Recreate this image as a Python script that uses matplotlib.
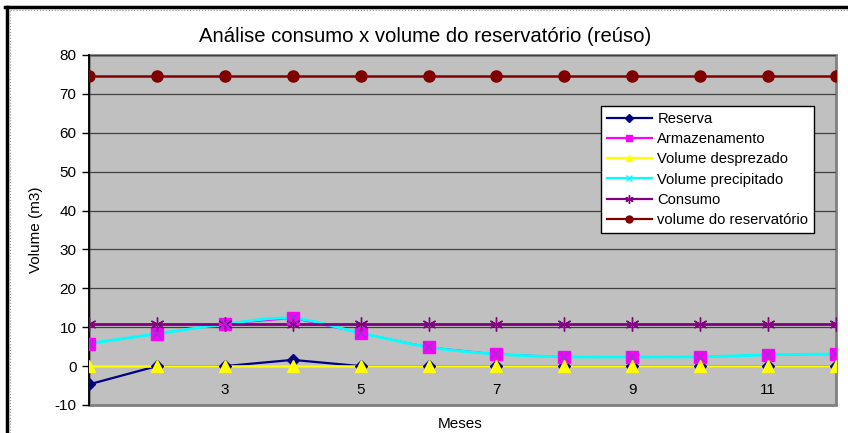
import numpy as np
import matplotlib.pyplot as plt
from matplotlib.lines import Line2D

plt.rcParams['font.family'] = ['Liberation Sans', 'DejaVu Sans']
plt.rcParams['axes.unicode_minus'] = False

# dados
meses = np.arange(1, 13)
reserva = [-4.7, 0.0, 0.0, 1.6, 0.0, 0.0, 0.0, 0.0, 0.0, 0.0, 0.0, 0.0]
armazenamento = [5.8, 8.3, 10.8, 12.3, 8.5, 4.9, 3.1, 2.4, 2.4, 2.4, 2.9, 3.1]
desprezado = [0, 0, 0, 0, 0, 0, 0, 0, 0, 0, 0, 0]
precipitado = [5.8, 8.3, 10.8, 12.3, 8.5, 4.9, 3.1, 2.4, 2.4, 2.4, 2.9, 3.1]
consumo = [10.8] * 12
vol_reservatorio = [74.5] * 12

xticks_lab = [3, 5, 7, 9, 11]
yticks = np.arange(-10, 81, 10)


def suavizar(x, y, n=30):
    # curva suavizada tipo Catmull-Rom (como a linha suavizada do Excel)
    x = np.asarray(x, float)
    y = np.asarray(y, float)
    px = np.concatenate([[x[0]], x, [x[-1]]])
    py = np.concatenate([[y[0]], y, [y[-1]]])
    xs, ys = [], []
    t = np.linspace(0, 1, n)
    for i in range(1, len(px) - 2):
        p0 = np.array([px[i], py[i]])
        p3 = np.array([px[i + 1], py[i + 1]])
        c1 = p0 + (np.array([px[i + 1], py[i + 1]]) - np.array([px[i - 1], py[i - 1]])) / 6
        c2 = p3 - (np.array([px[i + 2], py[i + 2]]) - np.array([px[i], py[i]])) / 6
        b = ((1 - t) ** 3)[:, None] * p0 + (3 * (1 - t) ** 2 * t)[:, None] * c1 \
            + (3 * (1 - t) * t ** 2)[:, None] * c2 + (t ** 3)[:, None] * p3
        xs.append(b[:, 0])
        ys.append(b[:, 1])
    return np.concatenate(xs), np.concatenate(ys)


fig = plt.figure(figsize=(8.48, 4.33), dpi=100)
ax = fig.add_axes([89 / 848, 28 / 433, 747 / 848, 350 / 433])
ax.set_facecolor('#C0C0C0')
ax.patch.set_edgecolor('#808080')
ax.patch.set_linewidth(2)

for yv in yticks[1:]:
    ax.axhline(yv, color='#404040', lw=0.9, zorder=1)

# linhas
ax.plot(meses, reserva, color='#000080', lw=1.6, zorder=3)
ax.plot(meses, armazenamento, color='#FF00FF', lw=1.0, zorder=2)
ax.plot(meses, desprezado, color='#FFFF00', lw=1.8, zorder=3)
sx, sy = suavizar(meses, precipitado)
ax.plot(sx, sy, color='#00FFFF', lw=2.0, zorder=3)
ax.plot(meses, consumo, color='#800080', lw=2.0, zorder=3)
ax.plot(meses, vol_reservatorio, color='#800000', lw=1.8, zorder=3)

# marcadores
ax.plot(meses, reserva, ls='none', marker='D', ms=6, color='#000080', zorder=4)
ax.plot(meses, armazenamento, ls='none', marker='s', ms=8, color='#FF00FF', zorder=4)
ax.plot(meses, desprezado, ls='none', marker='^', ms=9, color='#FFFF00', zorder=5)
ax.plot(meses, precipitado, ls='none', marker='x', ms=7, mew=1.2, color='#9933CC', zorder=5)
ax.plot(meses, consumo, ls='none', marker=(6, 2, 0), ms=10, mew=1.0, color='#800080', zorder=4)
ax.plot(meses, vol_reservatorio, ls='none', marker='o', ms=8, color='#800000', zorder=4)

handles = [
    Line2D([], [], color='#000080', marker='D', ms=4, lw=1.6, label='Reserva'),
    Line2D([], [], color='#FF00FF', marker='s', ms=5, lw=1.6, label='Armazenamento'),
    Line2D([], [], color='#FFFF00', marker='^', ms=5, lw=1.6, label='Volume desprezado'),
    Line2D([], [], color='#00FFFF', marker='x', ms=5, lw=1.6, label='Volume precipitado'),
    Line2D([], [], color='#800080', marker=(6, 2, 0), ms=6, lw=1.6, label='Consumo'),
    Line2D([], [], color='#800000', marker='o', ms=5, lw=1.6, label='volume do reservatório'),
]
leg = ax.legend(handles=handles, loc='upper left', bbox_to_anchor=(0.685, 0.854),
                fontsize=10.6, frameon=True, fancybox=False, edgecolor='black',
                framealpha=1, labelspacing=0.42, handlelength=3.1, handletextpad=0.35,
                borderpad=0.4, borderaxespad=0)
leg.get_frame().set_linewidth(1.0)
leg.set_zorder(10)

ax.set_xlim(1, 12)
ax.set_ylim(-10, 80)
ax.set_yticks(yticks)
ax.set_xticks(xticks_lab)
ax.tick_params(axis='y', direction='out', length=5, width=1, labelsize=11, color='black', pad=4)
ax.tick_params(axis='x', length=0, labelsize=11, pad=12)

for s in ['top', 'right']:
    ax.spines[s].set_visible(False)
ax.spines['bottom'].set_position(('data', 0))
ax.spines['bottom'].set_color('#404040')
ax.spines['bottom'].set_zorder(2)
ax.spines['left'].set_color('black')
ax.spines['left'].set_linewidth(1.3)

ax.set_ylabel('Volume (m3)', fontsize=11, labelpad=8)
fig.text(460 / 848, 1 - 424 / 433, 'Meses', fontsize=11, ha='center', va='center')
fig.text(425 / 848, 1 - 37 / 433, 'Análise consumo x volume do reservatório (reúso)',
         fontsize=14.6, ha='center', va='center')

# moldura
fig.add_artist(Line2D([5 / 848, 1], [1 - 7 / 433, 1 - 7 / 433], color='black', lw=2.5))
fig.add_artist(Line2D([6.5 / 848, 6.5 / 848], [0, 1 - 7 / 433], color='black', lw=2.5))
fig.add_artist(Line2D([10 / 848, 1], [1 - 10 / 433, 1 - 10 / 433], color='#999999', lw=0.8, ls=':'))
fig.add_artist(Line2D([10 / 848, 10 / 848], [0, 1 - 10 / 433], color='#999999', lw=0.8, ls=':'))

fig.savefig('out.png', dpi=100)
